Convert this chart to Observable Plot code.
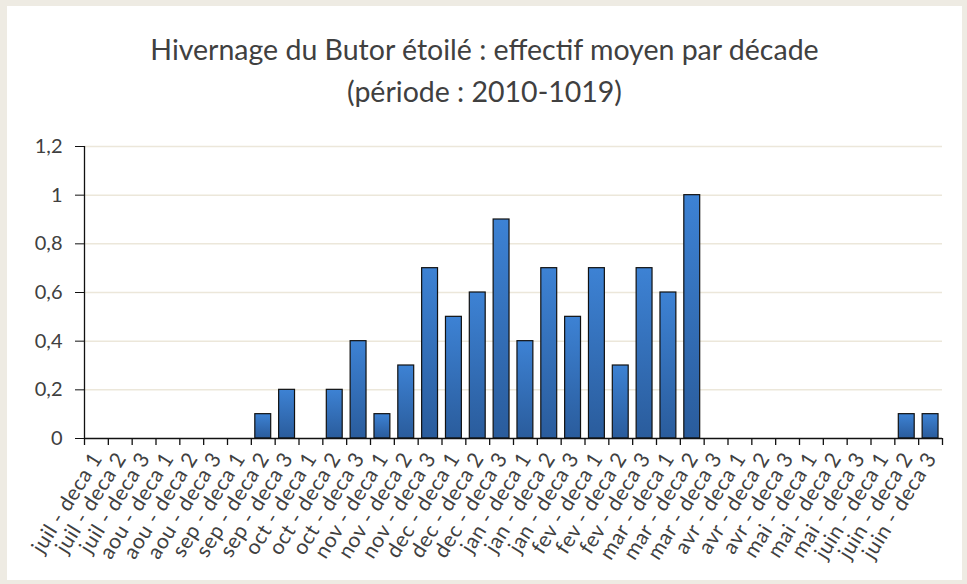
<!DOCTYPE html>
<html>
<head>
<meta charset="utf-8">
<script src="https://cdn.jsdelivr.net/npm/d3@7"></script>
<script src="https://cdn.jsdelivr.net/npm/@observablehq/plot@0.6"></script>
<style>
  html, body { margin: 0; padding: 0; background: #eeebe3; }
  #frame { position: absolute; left: 7px; top: 6px; width: 955px; height: 574px; background: #fff; overflow: hidden; }
  #title { position: absolute; left: 0; top: 0; width: 955px; text-align: center; font-family: Lato, "Open Sans", sans-serif; font-size: 28.5px; color: #404040; line-height: 42px; padding-top: 22px; }
  #chart { position: absolute; left: 0; top: 112px; }
  #chart svg { font-family: Lato, "Open Sans", sans-serif; }
  #chart svg text { font-size: 20px; fill: #404040; }
  #chart svg g[aria-label="x-axis tick label"] text { font-size: 21px; letter-spacing: 0.6px; }
</style>
</head>
<body>
<div id="frame">
  <div id="title">Hivernage du Butor étoilé : effectif moyen par décade<br>(période : 2010-1019)</div>
  <div id="chart"></div>
</div>
<script>
const categories = [
  "juil - deca 1", "juil - deca 2", "juil - deca 3",
  "aou - deca 1", "aou - deca 2", "aou - deca 3",
  "sep - deca 1", "sep - deca 2", "sep - deca 3",
  "oct - deca 1", "oct - deca 2", "oct - deca 3",
  "nov - deca 1", "nov - deca 2", "nov - deca 3",
  "dec - deca 1", "dec - deca 2", "dec - deca 3",
  "jan - deca 1", "jan - deca 2", "jan - deca 3",
  "fev - deca 1", "fev - deca 2", "fev - deca 3",
  "mar - deca 1", "mar - deca 2", "mar - deca 3",
  "avr - deca 1", "avr - deca 2", "avr - deca 3",
  "mai - deca 1", "mai - deca 2", "mai - deca 3",
  "juin - deca 1", "juin - deca 2", "juin - deca 3"
];
const values = [
  0, 0, 0,
  0, 0, 0,
  0, 0.1, 0.2,
  0, 0.2, 0.4,
  0.1, 0.3, 0.7,
  0.5, 0.6, 0.9,
  0.4, 0.7, 0.5,
  0.7, 0.3, 0.7,
  0.6, 1.0, 0,
  0, 0, 0,
  0, 0, 0,
  0, 0.1, 0.1
];
const yTicks = [0, 0.2, 0.4, 0.6, 0.8, 1, 1.2];
const yTickLabels = ["0", "0,2", "0,4", "0,6", "0,8", "1", "1,2"];

const data = categories.map((c, i) => ({cat: c, value: values[i]}));

const W = 955, H = 468;
const mL = 77, mR = 20, mT = 28, mB = 148;
const step = (W - mL - mR) / categories.length;
const tickLen = 7 * 1.2 / (H - mT - mB);

const gradient = () => {
  const ns = "http://www.w3.org/2000/svg";
  const defs = document.createElementNS(ns, "defs");
  const lg = document.createElementNS(ns, "linearGradient");
  lg.setAttribute("id", "barGrad");
  lg.setAttribute("x1", "0"); lg.setAttribute("y1", "0");
  lg.setAttribute("x2", "0"); lg.setAttribute("y2", "1");
  [["0%", "#3d82d4"], ["100%", "#2a5c9c"]].forEach(([o, c]) => {
    const s = document.createElementNS(ns, "stop");
    s.setAttribute("offset", o); s.setAttribute("stop-color", c);
    lg.appendChild(s);
  });
  defs.appendChild(lg);
  return defs;
};

const chart = Plot.plot({
  width: W,
  height: H,
  marginLeft: mL,
  marginRight: mR,
  marginTop: mT,
  marginBottom: mB,
  style: {color: "#404040", background: "transparent", overflow: "visible"},
  x: {type: "band", domain: categories, paddingInner: 1/3, paddingOuter: 1/6, round: false, label: null},
  y: {domain: [0, 1.2], label: null},
  marks: [
    gradient,
    Plot.gridY(yTicks.filter(d => d > 0), {stroke: "#ece7da", strokeOpacity: 1, strokeWidth: 1.5}),
    Plot.barY(data, {x: "cat", y: "value", fill: "url(#barGrad)", stroke: "#111", strokeWidth: 1.2}),
    Plot.ruleX(categories, {x: d => d, y1: 0, y2: -tickLen, dx: -step / 2, stroke: "#111", strokeWidth: 1.3}),
    Plot.ruleX([categories[categories.length - 1]], {x: d => d, y1: 0, y2: -tickLen, dx: step / 2, stroke: "#111", strokeWidth: 1.3}),
    Plot.ruleY([0], {stroke: "#111", strokeWidth: 1.3}),
    Plot.axisY({ticks: yTicks, tickFormat: (d) => yTickLabels[yTicks.indexOf(d)], tickSize: 9, tickPadding: 13, stroke: "#111", label: null}),
    Plot.ruleX([0], {x: () => categories[0], y1: 0, y2: 1.2, dx: -step / 2, stroke: "#111", strokeWidth: 1.3}),
    Plot.axisX({tickSize: 0, tickRotate: -58, tickPadding: 16, dx: 1, label: null})
  ]
});
document.getElementById("chart").appendChild(chart);
</script>
</body>
</html>
